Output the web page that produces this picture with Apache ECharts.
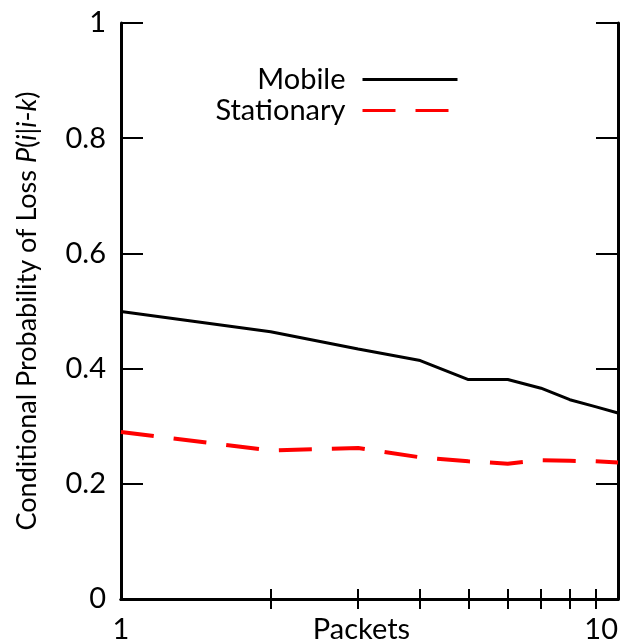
<!DOCTYPE html>
<html>
<head>
<meta charset="utf-8">
<script src="https://cdn.jsdelivr.net/npm/echarts@6/dist/echarts.min.js"></script>
<style>
  html, body { margin: 0; padding: 0; background: #fff; }
  #chart { width: 621px; height: 643px; }
</style>
</head>
<body>
<div id="chart"></div>
<script>
const packets = [1, 2, 3, 4, 5, 6, 7, 8, 9, 10]
const mobile = [0.499, 0.464, 0.434, 0.414, 0.381, 0.381, 0.366, 0.346, 0.334, 0.323]
const stationary = [0.290, 0.258, 0.262, 0.246, 0.239, 0.235, 0.241, 0.240, 0.239, 0.237]
const xTicks = [2, 3, 4, 5, 6, 7, 8, 9]
const xLabels = [1, 10]

const font = 'Lato'
const pairs = (ys) => packets.map((x, i) => [x, ys[i]])

const chart = echarts.init(document.getElementById('chart'))

const xBase = {
  type: 'log',
  logBase: 10,
  min: 1,
  max: 10,
  axisLine: { lineStyle: { color: '#000', width: 3 } },
  splitLine: { show: false },
  axisTick: { inside: true, length: 10, lineStyle: { color: '#000', width: 2 }, customValues: xTicks }
}
const yBase = {
  type: 'value',
  min: 0,
  max: 1,
  interval: 0.2,
  axisLine: { show: true, lineStyle: { color: '#000', width: 3 } },
  splitLine: { show: false },
  axisTick: { inside: true, length: 22, lineStyle: { color: '#000', width: 2 } }
}

chart.setOption({
  animation: false,
  grid: { left: 121, right: 3, top: 23, bottom: 44, outerBoundsMode: 'none', containLabel: false },
  legend: {
    orient: 'vertical',
    right: 157,
    top: 60,
    align: 'right',
    itemWidth: 95,
    itemHeight: 14,
    itemGap: 2,
    itemStyle: { color: 'transparent', borderWidth: 0 },
    lineStyle: { width: 3 },
    textStyle: { fontFamily: font, fontSize: 29, color: '#000', padding: [0, 12, 0, 0] },
    data: ['Mobile', 'Stationary']
  },
  xAxis: [
    Object.assign({}, xBase, {
      position: 'bottom',
      name: 'Packets',
      nameLocation: 'middle',
      nameGap: 16,
      nameMoveOverlap: false,
      nameTextStyle: { fontFamily: font, fontSize: 29, color: '#000', verticalAlign: 'top', padding: [0, 16, 0, 0] },
      axisLabel: { customValues: xLabels, margin: 16, alignMaxLabel: 'right', fontFamily: font, fontSize: 29, color: '#000' }
    }),
    Object.assign({}, xBase, { position: 'top', axisLabel: { show: false } })
  ],
  yAxis: [
    Object.assign({}, yBase, {
      position: 'left',
      name: '{n|Conditional Probability of Loss }{i|P}{n|(}{i|i}{n||}{i|i}{n|-}{i|k}{n|)}',
      nameLocation: 'middle',
      nameGap: 80,
      nameTextStyle: {
        rich: {
          n: { fontFamily: font, fontSize: 27, color: '#000' },
          i: { fontFamily: font, fontSize: 27, color: '#000', fontStyle: 'italic' }
        }
      },
      axisLabel: { margin: 15, fontFamily: font, fontSize: 29, color: '#000' }
    }),
    Object.assign({}, yBase, { position: 'right', axisLabel: { show: false } })
  ],
  series: [
    {
      name: 'Mobile',
      type: 'line',
      data: pairs(mobile),
      showSymbol: false,
      symbol: 'none',
      lineStyle: { color: '#000', width: 3 },
      itemStyle: { color: '#000' }
    },
    {
      name: 'Stationary',
      type: 'line',
      data: pairs(stationary),
      showSymbol: false,
      symbol: 'none',
      lineStyle: { color: '#ff0000', width: 4, type: [33, 20] },
      itemStyle: { color: '#ff0000' }
    }
  ]
})
</script>
</body>
</html>
